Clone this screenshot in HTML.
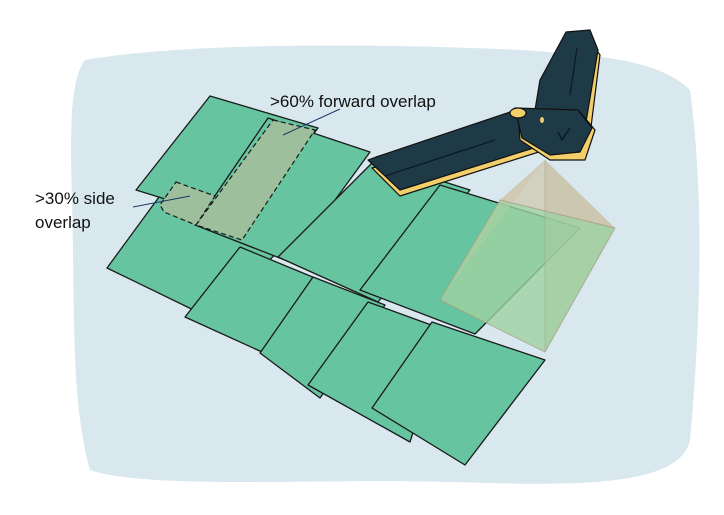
<!DOCTYPE html>
<html><head><meta charset="utf-8"><style>
html,body{margin:0;padding:0;background:#fff;}
svg{display:block;font-family:"Liberation Sans",sans-serif;}
</style></head><body>
<svg width="724" height="515" viewBox="0 0 724 515">
<path d="M85,60 C200,40 420,45 520,50 C600,55 660,60 690,90 C705,200 700,330 690,440 C680,490 560,485 450,482 C320,478 150,490 90,470 C70,400 75,300 72,200 C70,130 70,80 85,60 Z" fill="#d8e8ee"/>
<g fill="#66c4a0" stroke="#1a1a1a" stroke-width="1.3" stroke-linejoin="round">
<polygon points="170,182 290,240 210,318 107,268"/>
<polygon points="210,96 318,128 246,224 136,190"/>
<polygon points="268,118 370,152 290,262 195,225"/>
<polygon points="375,160 470,190 378,302 278,257"/>
<polygon points="440,185 580,228 475,334 360,290"/>
<polygon points="240,247 315,278 262,352 185,317"/>
<polygon points="313,277 385,305 320,398 260,353"/>
<polygon points="368,302 445,330 410,442 308,385"/>
<polygon points="432,322 545,360 465,465 372,408"/>
</g>
<g fill="#9ebf9c" stroke="#1a1a1a" stroke-width="1.2" stroke-dasharray="5,3">
<polygon points="273,120 315,130 242,240 196,225"/>
<polygon points="176,182 215,196 196,225 164,212 160,205"/>
</g>
<g>
<polygon points="545,160 500,200 440,300" fill="#d9c8a6" opacity="0.55"/>
<polygon points="545,160 615,228 545,352" fill="#b9b293" opacity="0.6"/>
<polygon points="545,160 500,200 615,228" fill="#cfc6ae" opacity="0.7"/>
<polygon points="500,200 615,228 545,352 440,300" fill="#9fd2a2" opacity="0.8" stroke="#a89f80" stroke-width="1"/>
<line x1="545" y1="160" x2="545" y2="352" stroke="#a89f80" stroke-width="0.8" opacity="0.6"/>
</g>
<g stroke="#111" stroke-width="1.2" stroke-linejoin="round">
<path d="M372,168 L400,196 L545,150 L565,135 L545,128 Z" fill="#f2cf6b"/>
<path d="M368,160 L376,157 L510,112 L545,128 L560,128 L540,146 L400,190 Z" fill="#1f3a47"/>
<line x1="385" y1="176" x2="495" y2="140" stroke="#0b1a20"/>
<path d="M593,45 L600,55 L590,135 L580,140 L575,110 Z" fill="#f2cf6b"/>
<path d="M566,32 L590,30 L598,50 L585,128 L560,125 L535,110 L540,80 Z" fill="#1f3a47"/>
<line x1="577" y1="48" x2="570" y2="95" stroke="#0b1a20"/>
<path d="M518,112 L580,112 L595,130 L585,160 L550,160 L520,140 Z" fill="#f2cf6b"/>
<path d="M515,108 L578,110 L592,128 L580,152 L550,155 L522,138 Z" fill="#1f3a47"/>
<ellipse cx="518" cy="113" rx="8" ry="5" fill="#f2cf6b"/>
<ellipse cx="542" cy="120" rx="2" ry="3" fill="#f2cf6b" stroke="none"/>
<path d="M558,132 L562,140 L570,128" fill="none" stroke="#0b1a20" stroke-width="1.5"/>
</g>
<g>
<text x="270" y="107" font-size="17" fill="#111">&gt;60% forward overlap</text>
<line x1="340" y1="109" x2="283" y2="135" stroke="#1d3a6a" stroke-width="1"/>
<text x="35" y="204" font-size="17" fill="#111">&gt;30% side</text>
<text x="35" y="228" font-size="17" fill="#111">overlap</text>
<line x1="133" y1="207" x2="190" y2="196" stroke="#1d3a6a" stroke-width="1"/>
</g>
</svg>
</body></html>
